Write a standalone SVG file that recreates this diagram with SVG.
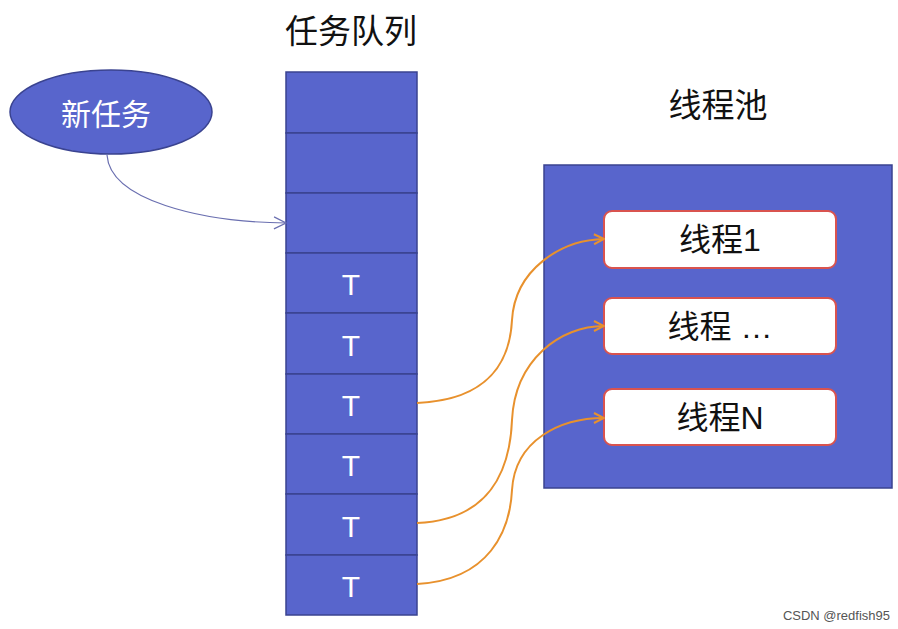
<svg xmlns="http://www.w3.org/2000/svg" width="898" height="629" viewBox="0 0 898 629">
<style>
text{font-family:"Liberation Sans","Noto Sans CJK SC",sans-serif}
.cell{fill:#5865cc;stroke:#3a4390;stroke-width:1.5}
.t{fill:#fff;font-size:30px;text-anchor:middle}
.h{fill:#111;font-size:33px;text-anchor:middle}
.th{fill:#fff;stroke:#d9534f;stroke-width:2}
.tt{fill:#111;font-size:32px;text-anchor:middle}
.o{fill:none;stroke:#e8912d;stroke-width:2;marker-end:url(#ao)}
</style>
<defs>
<marker id="ao" markerWidth="12" markerHeight="12" refX="11" refY="6" orient="auto" markerUnits="userSpaceOnUse"><path d="M1,1 L11,6 L1,11" fill="none" stroke="#e8912d" stroke-width="2"/></marker>
<marker id="ab" markerWidth="14" markerHeight="14" refX="13" refY="7" orient="auto" markerUnits="userSpaceOnUse"><path d="M1,1 L13,7 L1,13" fill="none" stroke="#6a6fb0" stroke-width="1.2"/></marker>
</defs>
<text class="h" x="351" y="43">任务队列</text>
<text class="h" x="718" y="117">线程池</text>
<g id="newtask"><ellipse cx="111" cy="112" rx="101" ry="42" fill="#5865cc" stroke="#3a4390" stroke-width="1.5"/><text class="t" x="106" y="125" font-size="35">新任务</text></g>
<g id="queue">
<rect class="cell" x="286" y="72" width="131" height="61"/>
<rect class="cell" x="286" y="133" width="131" height="60"/>
<rect class="cell" x="286" y="193" width="131" height="60"/>
<rect class="cell" x="286" y="253" width="131" height="60"/>
<rect class="cell" x="286" y="313" width="131" height="61"/>
<rect class="cell" x="286" y="374" width="131" height="60"/>
<rect class="cell" x="286" y="434" width="131" height="60"/>
<rect class="cell" x="286" y="494" width="131" height="61"/>
<rect class="cell" x="286" y="555" width="131" height="60"/>
<text class="t" x="351" y="295">T</text>
<text class="t" x="351" y="356">T</text>
<text class="t" x="351" y="416">T</text>
<text class="t" x="351" y="476">T</text>
<text class="t" x="351" y="537">T</text>
<text class="t" x="351" y="597">T</text>
</g>
<g id="pool"><rect x="544" y="165" width="348" height="323" fill="#5865cc" stroke="#3a4390" stroke-width="1.5"/></g>
<g id="thread1"><rect class="th" x="604" y="211" width="232" height="57" rx="8"/><text class="tt" x="720" y="251">线程1</text></g>
<g id="thread2"><rect class="th" x="604" y="298" width="232" height="56" rx="8"/><text class="tt" x="720" y="338">线程 …</text></g>
<g id="threadN"><rect class="th" x="604" y="389" width="232" height="56" rx="8"/><text class="tt" x="720" y="429">线程N</text></g>
<g id="connectors">
<path d="M107,155 C110,200 200,222 286,223" fill="none" stroke="#6a6fb0" stroke-width="1.2" marker-end="url(#ab)"/>
<path class="o" d="M417,403 C490,400 510,360 512,320 C515,270 560,240 604,239"/>
<path class="o" d="M417,523 C490,520 510,470 512,420 C515,360 560,326 604,326"/>
<path class="o" d="M417,584 C490,580 510,530 512,490 C515,440 560,418 604,418"/>
</g>
<text x="890" y="620" font-size="13" fill="#555" text-anchor="end">CSDN @redfish95</text>
</svg>
